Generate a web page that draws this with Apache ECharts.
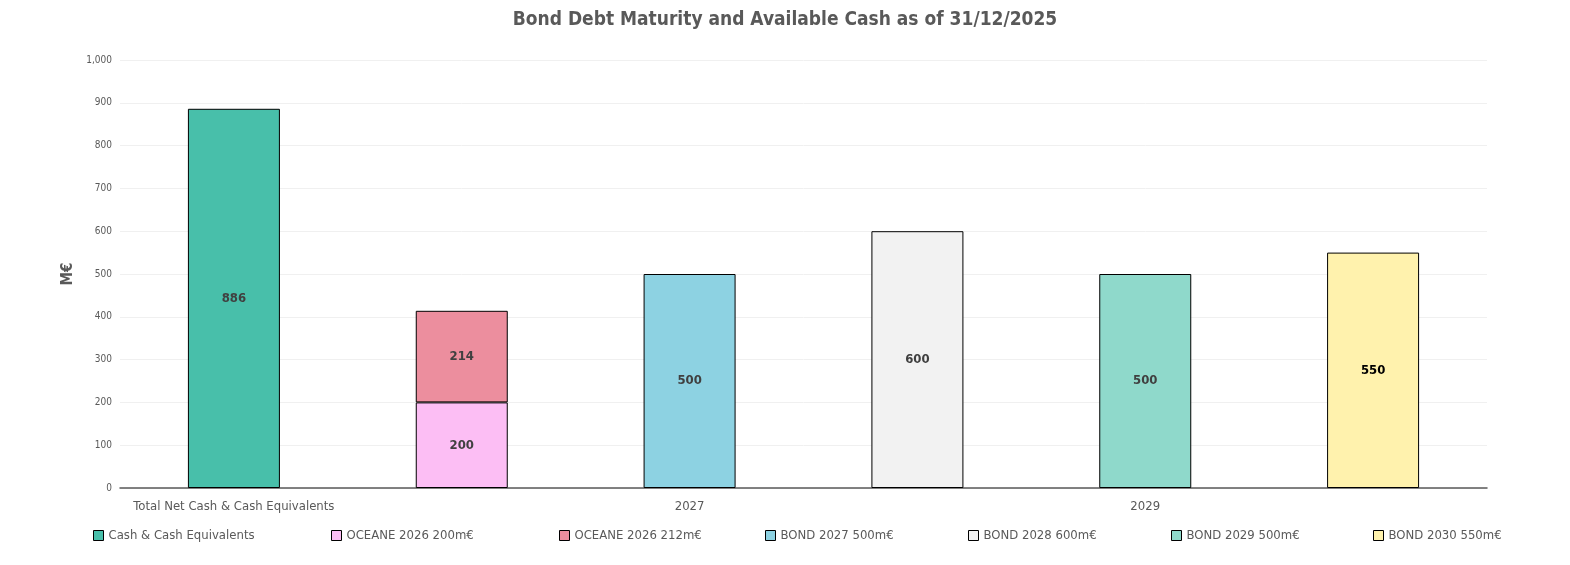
<!DOCTYPE html><html><head><meta charset="utf-8">
<script src="https://cdn.jsdelivr.net/npm/echarts@6/dist/echarts.min.js"></script>
<style>html,body{margin:0;padding:0;background:#fff}#c{width:1570px;height:565px}</style></head><body><div id="c"></div>
<script>
const categories=["Total Net Cash & Cash Equivalents","2026","2027","2028","2029","2030"];
const seriesNames=["Cash & Cash Equivalents","OCEANE 2026 200m€","OCEANE 2026 212m€","BOND 2027 500m€","BOND 2028 600m€","BOND 2029 500m€","BOND 2030 550m€"];
const seriesCategory=[0,1,1,2,3,4,5];
const seriesValues=[886,200,214,500,600,500,550];
const colors=["#48BFAA","#FCBEF4","#EC8E9E","#8DD2E2","#F2F2F2","#8FD9CB","#FFF2AD"];
const labelColors=["#404040","#404040","#404040","#404040","#404040","#404040","#000"];
const legendLeft=[88,326,554,760,963,1166,1368];
const font='"Liberation Sans Narrow","DejaVu Sans Condensed",sans-serif';
const series=seriesNames.map((n,i)=>({name:n,type:'bar',stack:'s',barWidth:92,
 data:categories.map((c,j)=>j===seriesCategory[i]?seriesValues[i]:null),
 itemStyle:{color:colors[i],borderColor:'#000',borderWidth:1},
 label:{show:true,position:'inside',fontWeight:'bold',fontSize:13,color:labelColors[i],fontFamily:font}}));
const legends=seriesNames.map((n,i)=>({data:[n],left:legendLeft[i],top:524,itemWidth:10,itemHeight:10,itemGap:3,
 icon:'rect',itemStyle:{borderColor:'#000',borderWidth:1},textStyle:{color:'#595959',fontSize:13,fontFamily:font}}));
const chart=echarts.init(document.getElementById('c'));
chart.setOption({animation:false,
 title:{text:'Bond Debt Maturity and Available Cash as of 31/12/2025',left:'center',top:6,textStyle:{color:'#595959',fontSize:19,fontWeight:'bold',fontFamily:font}},
 legend:legends,
 grid:{left:120,right:83,top:60,bottom:77},
 xAxis:{type:'category',data:categories,axisTick:{show:false},axisLine:{lineStyle:{color:'#595959',width:1.5}},
  axisLabel:{color:'#595959',fontSize:13,margin:12,fontFamily:font}},
 yAxis:{type:'value',min:0,max:1000,interval:100,name:'M€',nameLocation:'middle',nameGap:40,
  nameTextStyle:{color:'#595959',fontSize:15,fontWeight:'bold',fontFamily:font},
  axisLabel:{color:'#595959',fontSize:10,fontFamily:font},splitLine:{lineStyle:{color:'#F0F0F0'}}},
 series});
</script></body></html>
